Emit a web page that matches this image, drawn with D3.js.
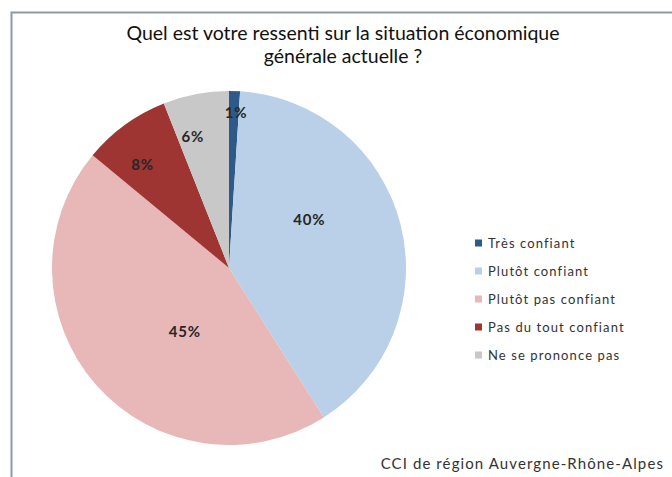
<!DOCTYPE html>
<html>
<head>
<meta charset="utf-8">
<script src="https://cdn.jsdelivr.net/npm/d3@7"></script>
<style>
  body { margin: 0; background: #fff; }
  svg { display: block; }
</style>
</head>
<body>
<svg id="chart"></svg>
<script>
const categories = ['Très confiant', 'Plutôt confiant', 'Plutôt pas confiant', 'Pas du tout confiant', 'Ne se prononce pas'];
const values = [1, 40, 45, 8, 6];
const colors = ['#2d5a88', '#bad0e8', '#e8b7b7', '#9e3533', '#c8c8c8'];
const titleLines = ['Quel est votre ressenti sur la situation économique', 'générale actuelle ?'];
const source = 'CCI de région Auvergne-Rhône-Alpes';

const width = 672;
const height = 477;
const font = 'Lato, "Open Sans", sans-serif';

const svg = d3.select('#chart')
  .attr('width', width)
  .attr('height', height);

// frame (only top and left edges visible in the crop)
svg.append('path')
  .attr('d', `M11.5,${height} V12.5 H${width}`)
  .attr('fill', 'none')
  .attr('stroke', '#8c9aa8')
  .attr('stroke-width', 2);

// title
svg.append('text')
  .attr('y', 40)
  .attr('text-anchor', 'middle')
  .attr('font-family', font)
  .attr('font-size', 19.5)
  .attr('fill', '#111')
  .selectAll('tspan')
  .data(titleLines)
  .join('tspan')
  .attr('x', 343)
  .attr('dy', (d, i) => (i === 0 ? 0 : 23))
  .text(d => d);

const cx = 229;
const cy = 268;
const r = 177;

const pie = d3.pie().sort(null).value(d => d);
const arcs = pie(values);
const arc = d3.arc().innerRadius(0).outerRadius(r);

const g = svg.append('g').attr('transform', `translate(${cx},${cy})`);

g.selectAll('path')
  .data(arcs)
  .join('path')
  .attr('d', arc)
  .attr('fill', (d, i) => colors[i]);

// label placement: fraction of radius, and angle shift (deg) from slice middle
const labelRadius = [0.88, 0.53, 0.44, 0.76, 0.77];
const labelShift = [0.8, -16.6, -14, -4, -4.6];
g.selectAll('text')
  .data(arcs)
  .join('text')
  .attr('transform', (d, i) => {
    const a = (d.startAngle + d.endAngle) / 2 + labelShift[i] * Math.PI / 180;
    const rr = r * labelRadius[i];
    return `translate(${Math.sin(a) * rr},${-Math.cos(a) * rr})`;
  })
  .attr('text-anchor', 'middle')
  .attr('dy', '0.35em')
  .attr('font-family', font)
  .attr('font-weight', 'bold')
  .attr('font-size', 15)
  .attr('letter-spacing', 0.8)
  .attr('fill', '#262626')
  .text(d => `${d.data}%`);

// legend
const y = d3.scalePoint().domain(categories).range([243, 355]);
const legend = svg.append('g');
legend.selectAll('rect')
  .data(categories)
  .join('rect')
  .attr('x', 475)
  .attr('y', d => y(d) - 3.5)
  .attr('width', 7)
  .attr('height', 7)
  .attr('fill', (d, i) => colors[i]);
legend.selectAll('text')
  .data(categories)
  .join('text')
  .attr('x', 488)
  .attr('y', d => y(d))
  .attr('dy', '0.35em')
  .attr('font-family', font)
  .attr('font-size', 13)
  .attr('letter-spacing', 1.1)
  .attr('fill', '#333')
  .text(d => d);

// source
svg.append('text')
  .attr('x', 664)
  .attr('y', 469)
  .attr('text-anchor', 'end')
  .attr('font-family', font)
  .attr('font-size', 15)
  .attr('letter-spacing', 1.1)
  .attr('fill', '#333')
  .text(source);
</script>
</body>
</html>
